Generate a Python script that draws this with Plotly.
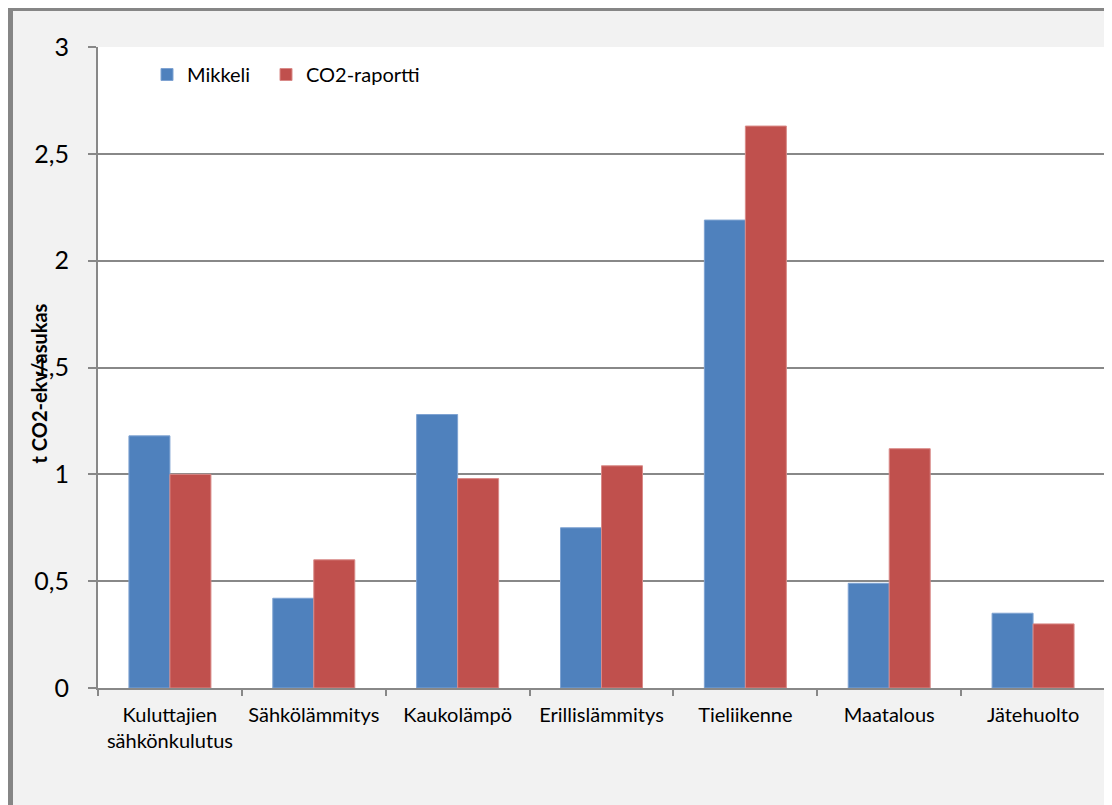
import plotly.graph_objects as go

# categories and values
categories = [
    "Kuluttajien<br>sähkönkulutus",
    "Sähkölämmitys",
    "Kaukolämpö",
    "Erillislämmitys",
    "Tieliikenne",
    "Maatalous",
    "Jätehuolto",
]
mikkeli = [1.18, 0.42, 1.28, 0.75, 2.19, 0.49, 0.35]
co2_raportti = [1.00, 0.60, 0.98, 1.04, 2.63, 1.12, 0.30]
y_ticks = [0, 0.5, 1, 1.5, 2, 2.5, 3]

# page has an 8px body margin, so the figure is sized to fill the rest
W, H = 1104, 797
L, R, T, B = 90, 7, 39, 117
pw = W - L - R
ph = H - T - B


def px_x(x):
    # figure pixel -> paper x
    return (x - L) / pw


def px_y(y):
    # figure pixel -> paper y
    return (H - B - y) / ph


fig = go.Figure()

fig.add_trace(
    go.Bar(
        x=categories,
        y=mikkeli,
        name="Mikkeli",
        legend="legend",
        marker=dict(color="#4f81bd", line=dict(color="#7fa3d2", width=1)),
    )
)
fig.add_trace(
    go.Bar(
        x=categories,
        y=co2_raportti,
        name="CO2-raportti",
        legend="legend2",
        marker=dict(color="#c0504d", line=dict(color="#d98a88", width=1)),
    )
)

grid = "#888888"
border = "#868686"

legend_style = dict(
    orientation="h",
    xanchor="left",
    yanchor="top",
    font=dict(size=20),
    bgcolor="rgba(0,0,0,0)",
)

fig.update_layout(
    width=W,
    height=H,
    margin=dict(l=L, r=R, t=T, b=B, autoexpand=False),
    paper_bgcolor="#f2f2f2",
    plot_bgcolor="#ffffff",
    font=dict(family="Lato, Carlito, sans-serif", color="#000000"),
    separators=", ",
    barmode="group",
    bargap=0.43,
    bargroupgap=0,
    showlegend=True,
    legend=dict(x=px_x(139), y=px_y(47), **legend_style),
    legend2=dict(x=px_x(258), y=px_y(47), **legend_style),
    xaxis=dict(
        showline=True,
        linecolor=grid,
        linewidth=2,
        ticks="outside",
        tickson="boundaries",
        ticklen=6,
        tickcolor=grid,
        tickwidth=2,
        tickfont=dict(size=20),
        ticklabelstandoff=8,
        showgrid=False,
    ),
    yaxis=dict(
        range=[0, 3],
        tickvals=y_ticks,
        showline=True,
        linecolor=grid,
        linewidth=2,
        ticks="outside",
        ticklen=8,
        tickcolor=grid,
        tickwidth=2,
        tickfont=dict(size=25),
        showgrid=True,
        gridcolor=grid,
        gridwidth=2,
        zeroline=False,
        ticklabelstandoff=14,
    ),
    annotations=[
        dict(
            text="<b>t CO2-ekv/asukas</b>",
            xref="paper",
            yref="paper",
            x=px_x(30.5),
            y=px_y(376),
            textangle=-90,
            showarrow=False,
            xanchor="center",
            yanchor="middle",
            font=dict(size=20),
        )
    ],
    shapes=[
        dict(
            type="line",
            xref="paper",
            yref="paper",
            x0=px_x(2.5),
            x1=px_x(2.5),
            y0=px_y(-2),
            y1=px_y(H + 5),
            line=dict(color=border, width=5),
            layer="above",
        ),
        dict(
            type="line",
            xref="paper",
            yref="paper",
            x0=px_x(0),
            x1=px_x(W + 5),
            y0=px_y(1),
            y1=px_y(1),
            line=dict(color=border, width=4),
            layer="above",
        ),
    ],
)

fig.write_html("out.html")
